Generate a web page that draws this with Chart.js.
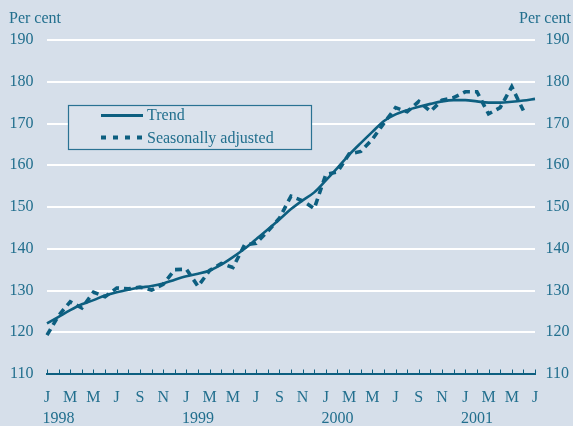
<!DOCTYPE html>
<html>
<head>
<meta charset="utf-8">
<script src="https://cdn.jsdelivr.net/npm/chart.js@4.4.0/dist/chart.umd.min.js"></script>
<style>
  html, body { margin: 0; padding: 0; background: #d6dfea; }
  #wrap { width: 573px; height: 426px; }
</style>
</head>
<body>
<div id="wrap"><canvas id="chart" width="573" height="426"></canvas></div>
<script>
// months Jan 1998 .. Jul 2001
const years = ['1998', '1999', '2000', '2001'];
const monthInitials = ['J', 'F', 'M', 'A', 'M', 'J', 'J', 'A', 'S', 'O', 'N', 'D'];
const monthCount = 43;

const trend = [
  122.1, 123.7, 125.3, 126.7, 127.7, 128.8, 129.6, 130.2, 130.7, 131.1, 131.7, 132.6,
  133.4, 134.0, 134.8, 136.2, 138.0, 140.0, 142.3, 144.6, 147.0, 149.5, 151.6, 153.5,
  156.4, 159.4, 162.5, 165.3, 168.0, 170.6, 172.2, 173.2, 174.0, 174.7, 175.3, 175.6,
  175.6, 175.3, 175.0, 175.0, 175.2, 175.5, 175.9
];
const seasonallyAdjusted = [
  119.3, 124.0, 127.3, 125.8, 129.6, 128.5, 130.6, 130.4, 130.8, 130.1, 131.5, 135.0,
  135.1, 131.0, 134.8, 136.5, 135.5, 140.9, 141.3, 144.2, 147.3, 152.6, 151.5, 149.6,
  157.8, 158.4, 162.7, 163.3, 166.2, 170.1, 173.8, 172.8, 175.3, 172.9, 175.6, 176.2,
  177.6, 177.6, 172.3, 173.8, 178.8, 173.1
];
const yMin = 110, yMax = 190, yStep = 10;

const lineColor = '#0d5f80';
const textColor = '#226f8e';
const fontFamily = '"Liberation Serif", "Times New Roman", serif';
const fontSize = 16;

const categories = [];
for (let i = 0; i < monthCount; i++) {
  categories.push(monthInitials[i % 12] + ' ' + years[Math.floor(i / 12)]);
}

// "Per cent" headers, small upward month ticks, legend box
const decorations = {
  id: 'decorations',
  beforeDatasetsDraw(chart) {
    const ctx = chart.ctx;
    const area = chart.chartArea;
    const x = chart.scales.x;
    ctx.save();
    // month tick marks pointing up from the axis
    ctx.strokeStyle = lineColor;
    ctx.lineWidth = 1;
    for (let i = 0; i < monthCount; i++) {
      const px = Math.round(x.getPixelForValue(i)) + 0.5;
      ctx.beginPath();
      ctx.moveTo(px, area.bottom);
      ctx.lineTo(px, area.bottom - 4.5);
      ctx.stroke();
    }
    // legend
    const lx = 68.5, ly = 105.5, lw = 243, lh = 44;
    ctx.fillStyle = '#dae2ec';
    ctx.fillRect(lx, ly, lw, lh);
    ctx.strokeStyle = '#2a7293';
    ctx.lineWidth = 1.2;
    ctx.strokeRect(lx, ly, lw, lh);
    const ds = chart.data.datasets;
    ctx.font = fontSize + 'px ' + fontFamily;
    ctx.fillStyle = textColor;
    ctx.textBaseline = 'middle';
    ctx.textAlign = 'left';
    ctx.strokeStyle = ds[0].borderColor;
    ctx.lineWidth = 3;
    ctx.beginPath();
    ctx.moveTo(101, 115.5);
    ctx.lineTo(143, 115.5);
    ctx.stroke();
    ctx.fillText(ds[0].label, 147, 116);
    ctx.strokeStyle = ds[1].borderColor;
    ctx.lineWidth = 4;
    ctx.setLineDash([5, 7]);
    ctx.beginPath();
    ctx.moveTo(101, 137.5);
    ctx.lineTo(143, 137.5);
    ctx.stroke();
    ctx.setLineDash([]);
    ctx.fillText(ds[1].label, 147, 138.5);
    // axis unit labels
    ctx.fillText('Per cent', 9, 19);
    ctx.textAlign = 'right';
    ctx.fillText('Per cent', 571, 19);
    ctx.restore();
  }
};

new Chart(document.getElementById('chart'), {
  type: 'line',
  data: {
    labels: categories,
    datasets: [
      {
        label: 'Trend',
        data: trend,
        borderColor: lineColor,
        borderWidth: 2.6,
        pointRadius: 0,
        tension: 0.4,
        cubicInterpolationMode: 'monotone',
        fill: false
      },
      {
        label: 'Seasonally adjusted',
        data: seasonallyAdjusted,
        borderColor: lineColor,
        borderWidth: 3.6,
        borderDash: [7, 5],
        pointRadius: 0,
        tension: 0,
        fill: false
      }
    ]
  },
  options: {
    responsive: false,
    animation: false,
    events: [],
    layout: { padding: { top: 40, left: 0, right: 0, bottom: 0 } },
    plugins: {
      legend: { display: false },
      tooltip: { enabled: false },
      title: { display: false }
    },
    scales: {
      x: {
        type: 'category',
        offset: false,
        grid: { display: true, drawOnChartArea: false, drawTicks: false },
        border: { display: true, color: lineColor, width: 2 },
        ticks: {
          autoSkip: false,
          maxRotation: 0,
          padding: 13,
          color: textColor,
          font: { family: fontFamily, size: fontSize, lineHeight: '21px' },
          callback: (val, i) => {
            if (i % 2 === 0) return monthInitials[i % 12];
            if (i % 12 === 1) return ['', years[Math.floor(i / 12)]];
            return '';
          }
        },
        afterFit: s => { s.height = 52; }
      },
      y: {
        position: 'left',
        min: yMin,
        max: yMax,
        grid: { color: '#ffffff', lineWidth: 2, drawTicks: false },
        border: { display: false },
        ticks: {
          stepSize: yStep,
          padding: 13.5,
          color: textColor,
          font: { family: fontFamily, size: fontSize }
        },
        afterFit: s => { s.width = 47; }
      },
      y2: {
        position: 'right',
        min: yMin,
        max: yMax,
        grid: { display: false, drawTicks: false },
        border: { display: false },
        ticks: {
          stepSize: yStep,
          padding: 10.5,
          color: textColor,
          font: { family: fontFamily, size: fontSize }
        },
        afterFit: s => { s.width = 38; }
      }
    }
  },
  plugins: [decorations]
});
</script>
</body>
</html>
